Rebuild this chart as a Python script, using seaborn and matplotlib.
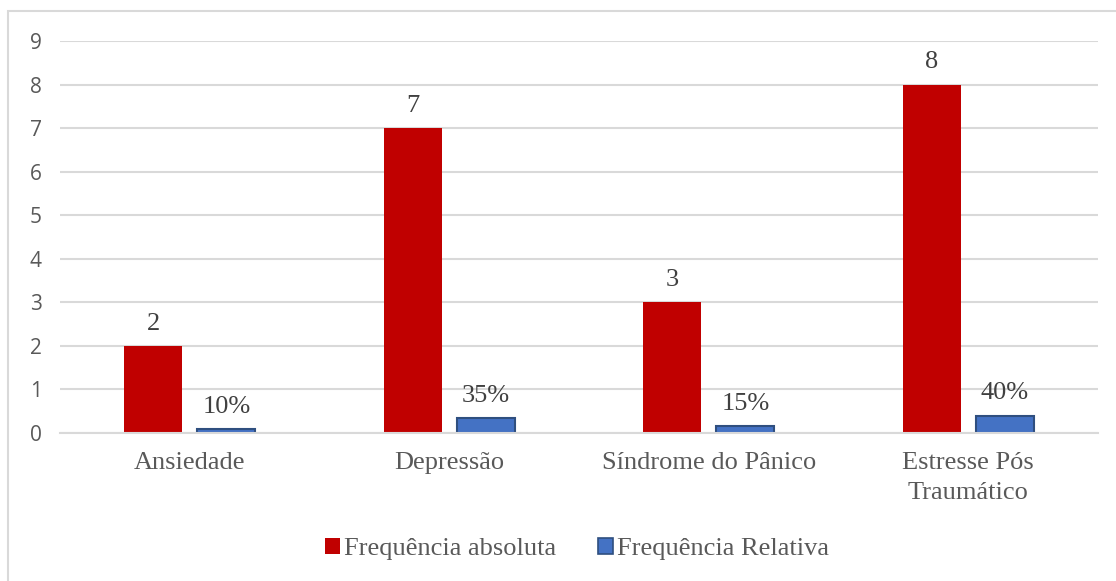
import matplotlib
matplotlib.use("Agg")
import matplotlib.pyplot as plt
import matplotlib.patches as mpatches
import pandas as pd
import seaborn as sns

categorias = ["Ansiedade", "Depressão", "Síndrome do Pânico", "Estresse Pós\nTraumático"]
freq_absoluta = [2, 7, 3, 8]
freq_relativa = [0.10, 0.35, 0.15, 0.40]
series = ["Frequência absoluta", "Frequência Relativa"]
cores = ["#C00000", "#4472C4"]
y_ticks = list(range(0, 10))

df = pd.DataFrame({
    "categoria": categorias * 2,
    "serie": [series[0]] * len(categorias) + [series[1]] * len(categorias),
    "valor": freq_absoluta + freq_relativa,
})

sns.set_theme(style="white")
plt.rcParams["font.family"] = ["Liberation Serif", "DejaVu Serif"]

W, H = 1116, 581
fig = plt.figure(figsize=(W / 100, H / 100), dpi=100)
ax = fig.add_axes([60 / W, 148 / H, (1098 - 60) / W, (433 - 41) / H])

sns.barplot(data=df, x="categoria", y="valor", hue="serie", order=categorias,
            hue_order=series, palette=cores, width=0.566, gap=0.21,
            saturation=1, ax=ax, legend=False, errorbar=None)

# dark outline on the relative-frequency bars
for cont, serie in zip(ax.containers, series):
    for bar in cont:
        if serie == series[1]:
            bar.set_edgecolor("#2F4F7F")
            bar.set_linewidth(1.5)
        else:
            bar.set_edgecolor("none")

# value labels
lab_abs = [str(v) for v in freq_absoluta]
lab_rel = [f"{round(v * 100)}%" for v in freq_relativa]
ax.bar_label(ax.containers[0], labels=lab_abs, padding=8, fontsize=19, color="#404040")
ax.bar_label(ax.containers[1], labels=lab_rel, padding=8, fontsize=19, color="#404040")

ax.set_xlim(-0.5, 3.5)
ax.set_ylim(0, 9)
ax.set_yticks(y_ticks)
ax.set_yticklabels([str(t) for t in y_ticks], family=["Open Sans", "DejaVu Sans"],
                   fontsize=15, color="#595959")
ax.tick_params(axis="y", length=0, pad=13)
ax.tick_params(axis="x", length=0, pad=14, labelsize=19, labelcolor="#595959")
for t in ax.get_xticklabels():
    t.set_linespacing(1.45)
ax.set_xlabel("")
ax.set_ylabel("")
ax.grid(axis="y", color="#D9D9D9", linewidth=1.5)
ax.set_axisbelow(True)
for s in ["top", "right", "left"]:
    ax.spines[s].set_visible(False)
ax.spines["bottom"].set_color("#D9D9D9")
ax.spines["bottom"].set_linewidth(1.5)

handles = [mpatches.Patch(facecolor=cores[0], edgecolor="none", label=series[0]),
           mpatches.Patch(facecolor=cores[1], edgecolor="#2F4F7F", linewidth=1.2, label=series[1])]
fig.legend(handles=handles, loc="center", bbox_to_anchor=(577 / W, 1 - 549 / H),
           ncol=2, frameon=False, fontsize=19, handlelength=0.55, handleheight=0.55,
           handletextpad=0.15, columnspacing=1.6, labelcolor="#595959")

# chart-area border
fig.add_artist(mpatches.Rectangle((8 / W, -0.05), 1.2, 1 - 11 / H + 0.05,
                                  transform=fig.transFigure, fill=False,
                                  edgecolor="#D9D9D9", linewidth=1.5))

fig.savefig("out.png", dpi=100, facecolor="white")
